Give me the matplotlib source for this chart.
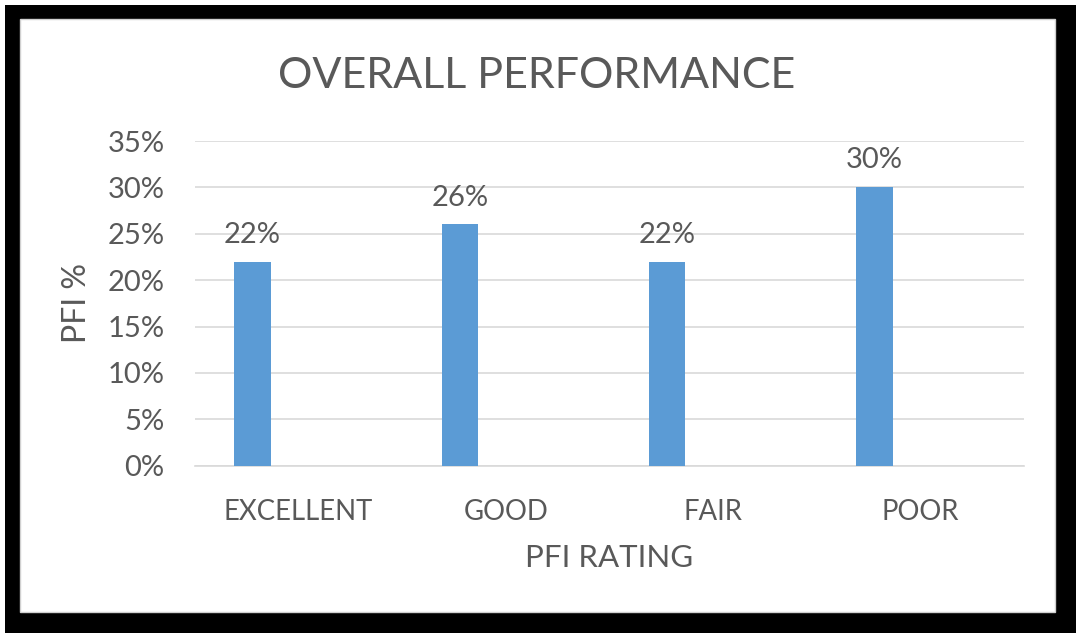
import matplotlib.pyplot as plt
from matplotlib.patches import Rectangle
from matplotlib.ticker import FuncFormatter
import numpy as np

categories = ['EXCELLENT', 'GOOD', 'FAIR', 'POOR']
pfi_share = [22, 26, 22, 30]
y_ticks = [0, 5, 10, 15, 20, 25, 30, 35]

TEXT = '#595959'
GRID = '#d9d9d9'
BAR = '#5b9bd5'

plt.rcParams['font.family'] = ['Lato', 'DejaVu Sans']

fig = plt.figure(figsize=(10.76, 6.33), dpi=100)
fig.patch.set_facecolor('white')

# black frame round the chart, white chart area inside
W, H = 1076, 633
fig.patches.append(Rectangle((5 / W, 0), 1071 / W, 628 / H, transform=fig.transFigure,
                             facecolor='black', edgecolor='none', zorder=-2))
fig.patches.append(Rectangle((20 / W, 21 / H), 1035 / W, 593 / H, transform=fig.transFigure,
                             facecolor='white', edgecolor='#d0d0d0', linewidth=1, zorder=-1))

ax = fig.add_axes([195 / W, (H - 465.7) / H, 829 / W, 324.7 / H])
ax.set_facecolor('none')

x = np.arange(len(categories))
offset = -0.222
width = 0.176
bars = ax.bar(x + offset, pfi_share, width=width, color=BAR, zorder=3)
ax.bar_label(bars, labels=[f'{v}%' for v in pfi_share], padding=10,
             fontsize=21, color=TEXT)

ax.set_xlim(-0.5, len(categories) - 0.5)
ax.set_ylim(0, 35)
ax.set_yticks(y_ticks)
ax.yaxis.set_major_formatter(FuncFormatter(lambda v, p: f'{v:.0f}%'))
ax.set_xticks(x)
ax.set_xticklabels(categories)
ax.grid(axis='y', color=GRID, linewidth=1.2, zorder=0)
ax.tick_params(axis='both', length=0, labelcolor=TEXT)
ax.tick_params(axis='y', pad=22, labelsize=21)
ax.tick_params(axis='x', pad=24, labelsize=19.8)
for s in ['top', 'right', 'left']:
    ax.spines[s].set_visible(False)
ax.spines['bottom'].set_color(GRID)
ax.spines['bottom'].set_linewidth(1.2)

ax.set_xlabel('PFI RATING', fontsize=22.5, color=TEXT, va='center')
ax.xaxis.set_label_coords(0.5, -0.284)
ax.set_ylabel('PFI %', fontsize=23, color=TEXT, va='center')
ax.yaxis.set_label_coords(-0.1423, 0.5)

fig.text(537 / W, (H - 76) / H, 'OVERALL PERFORMANCE', fontsize=31, color=TEXT,
         ha='center', va='center')

fig.savefig('out.png', dpi=100)
